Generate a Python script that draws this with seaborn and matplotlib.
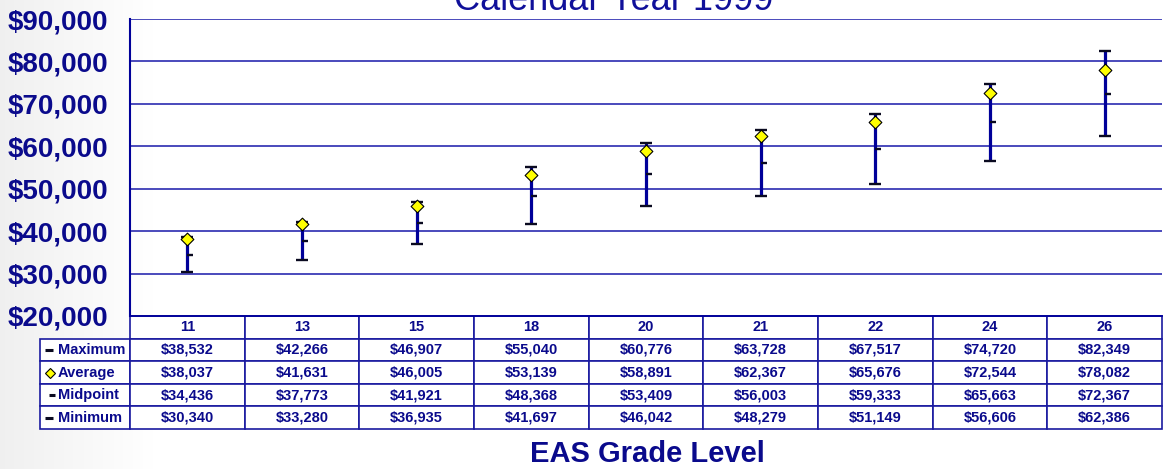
import numpy as np
import pandas as pd
import seaborn as sns
import matplotlib.pyplot as plt
from matplotlib.path import Path
from matplotlib.ticker import MultipleLocator, FuncFormatter

# ---- data ----
grades = ['11', '13', '15', '18', '20', '21', '22', '24', '26']
maximum = [38532, 42266, 46907, 55040, 60776, 63728, 67517, 74720, 82349]
average = [38037, 41631, 46005, 53139, 58891, 62367, 65676, 72544, 78082]
midpoint = [34436, 37773, 41921, 48368, 53409, 56003, 59333, 65663, 72367]
minimum = [30340, 33280, 36935, 41697, 46042, 48279, 51149, 56606, 62386]
row_names = ['Maximum', 'Average', 'Midpoint', 'Minimum']
title = 'Calendar Year 1999'
xlabel = 'EAS Grade Level'

NAVY = '#0a0a8c'
LINE = '#000099'
GRID = '#3c3cb6'

sns.set_theme(style='white')
plt.rcParams['font.family'] = ['Liberation Sans', 'DejaVu Sans']
plt.rcParams['font.weight'] = 'bold'

W, H = 1168, 469
fig = plt.figure(figsize=(W / 100, H / 100), dpi=100)
fig.patch.set_facecolor('white')

# subtle slide background gradient on the left
bg = fig.add_axes([0, 0, 1, 1], zorder=-10)
grad = np.linspace(0, 1, 400)
img = np.clip(grad[None, :] / 0.13, 0, 1)
col = 0.94 + 0.06 * img
bg.imshow(np.dstack([col, col, col]), aspect='auto', extent=[0, 1, 0, 1])
bg.set_axis_off()

ax_l, ax_r, ax_t, ax_b = 130, 1162, 19, 316
ax = fig.add_axes([ax_l / W, (H - ax_b) / H, (ax_r - ax_l) / W, (ax_b - ax_t) / H])
ax.set_facecolor('none')

df = pd.DataFrame({'grade': grades, 'pos': np.arange(len(grades)),
                   'max': maximum, 'avg': average, 'mid': midpoint, 'min': minimum})

ax.vlines(df['pos'], df['min'], df['max'], color=LINE, lw=2.3, zorder=3)
ax.plot(df['pos'], df['max'], ls='none', marker='_', ms=8.6, mew=1.7, color='#0a0a20', zorder=4)
ax.plot(df['pos'], df['min'], ls='none', marker='_', ms=8.6, mew=1.7, color='#0a0a20', zorder=4)
dash_right = Path([(0, 0), (1, 0)])
ax.plot(df['pos'], df['mid'], ls='none', marker=dash_right, ms=9, mew=1.7,
        color='#0a0a20', zorder=4)
sns.scatterplot(data=df, x='pos', y='avg', marker='D', s=42, color='#ffff00',
                edgecolor='black', linewidth=0.8, zorder=5, ax=ax, legend=False)

ax.set_xlim(-0.5, len(grades) - 0.5)
ax.set_ylim(20000, 90000)
ax.yaxis.set_major_locator(MultipleLocator(10000))
ax.yaxis.set_major_formatter(FuncFormatter(lambda v, p: f'${v:,.0f}'))
ax.yaxis.grid(True, color=GRID, lw=1.3)
ax.xaxis.grid(False)
ax.set_xticks(np.arange(-0.5, len(grades), 1.0))
ax.tick_params(axis='x', direction='in', length=3, color=LINE, labelbottom=False)
ax.tick_params(axis='y', direction='inout', length=13, width=1.3, color=LINE,
               labelsize=20, labelcolor=NAVY, pad=9)
for s in ['top', 'right']:
    ax.spines[s].set_visible(False)
ax.spines['left'].set_color(LINE)
ax.spines['left'].set_linewidth(1.5)
ax.spines['bottom'].set_color(LINE)
ax.spines['bottom'].set_linewidth(1.3)
ax.set_xlabel('')
ax.set_ylabel('')

# ---- data table ----
axw = ax_r - ax_l
axh = ax_b - ax_t
lab_left = 40
tab_bottom = 429
label_w = ax_l - lab_left
total_w = ax_r - lab_left
col_w = axw / len(grades)
series = [maximum, average, midpoint, minimum]
cell_text = [[''] + [f'${v:,}' for v in s] for s in series]
tbl = ax.table(cellText=cell_text, colLabels=[''] + grades,
               colWidths=[label_w / total_w] + [col_w / total_w] * len(grades),
               bbox=[-label_w / axw, -(tab_bottom - ax_b) / axh, total_w / axw,
                     (tab_bottom - ax_b) / axh],
               cellLoc='center')
tbl.auto_set_font_size(False)
tbl.set_fontsize(10.5)
for (r, c), cell in tbl.get_celld().items():
    cell.set_edgecolor('#1a1aa0')
    cell.set_linewidth(1.2)
    cell.set_facecolor('white')
    cell.get_text().set_color(NAVY)
    cell.get_text().set_fontweight('bold')
    if r == 0 and c == 0:
        cell.visible_edges = ''
        cell.set_facecolor('none')

row_h = (tab_bottom - ax_b) / axh / 5
text_x = (58 - ax_l) / axw
for i, name in enumerate(row_names):
    yc = -(i + 1.5) * row_h
    ax.text(text_x, yc, name, transform=ax.transAxes, ha='left', va='center',
            fontsize=10.5, color=NAVY, fontweight='bold', clip_on=False)
    mx = (49 - ax_l) / axw
    if name in ('Maximum', 'Minimum'):
        ax.plot([mx], [yc], transform=ax.transAxes, marker='_', ms=6, mew=2.2,
                color='#0a0a20', clip_on=False)
    elif name == 'Average':
        ax.plot([(50 - ax_l) / axw], [yc], transform=ax.transAxes, marker='D', ms=5.5,
                mfc='#ffff00', mec='black', mew=0.8, clip_on=False)
    else:
        ax.plot([(51.5 - ax_l) / axw], [yc], transform=ax.transAxes, marker='_', ms=4,
                mew=2.2, color='#0a0a20', clip_on=False)

fig.text(614 / W, (H - 10) / H, title, ha='center', va='baseline', fontsize=26,
         color='#10109a', fontweight='normal')
fig.text(647 / W, (H - 462) / H, xlabel, ha='center', va='baseline', fontsize=21,
         color=NAVY, fontweight='bold')

fig.savefig('out.png', dpi=100)
